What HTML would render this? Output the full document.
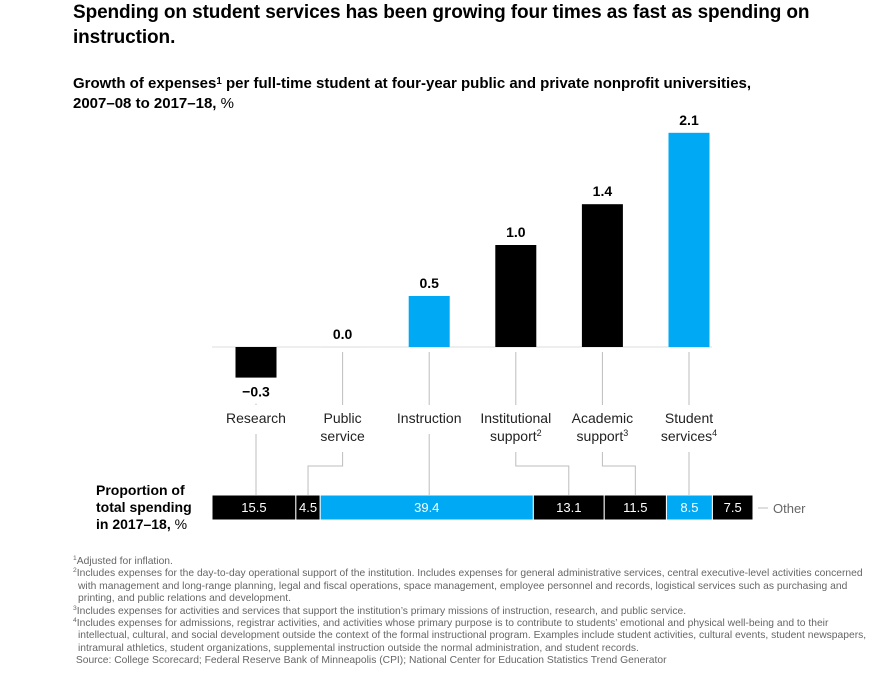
<!DOCTYPE html>
<html><head><meta charset="utf-8"><style>
body{margin:0;background:#fff;font-family:"Liberation Sans",sans-serif;}
#wrap{position:relative;width:889px;height:682px;overflow:hidden;}
.t{position:absolute;left:73px;top:0;font-size:19px;letter-spacing:-0.1px;font-weight:bold;line-height:25px;color:#000;width:795px;}
.st{position:absolute;left:73px;top:74px;font-size:15px;font-weight:bold;line-height:20px;color:#000;width:760px;}
.nw{white-space:nowrap;}
.fn{position:absolute;left:73px;top:556px;font-size:10.3px;line-height:12.4px;color:#666;width:795px;}
.fn div{padding-left:5px;text-indent:-5px;line-height:12.4px;}
sup{font-size:65%;line-height:0;vertical-align:4px;}
</style></head><body>
<div id="wrap">
<div class="t">Spending on student services has been growing four times as fast as spending on instruction.</div>
<div class="st">Growth of expenses<sup>1</sup> per full-time student at four-year public and private nonprofit universities,<br><span class="nw">2007–08</span> to <span class="nw">2017–18,</span> <span style="font-weight:normal">%</span></div>
<svg id="svg" width="889" height="682" style="position:absolute;left:0;top:0"></svg>
<div class="fn">
<div><sup>1</sup>Adjusted for inflation.</div>
<div><sup>2</sup>Includes expenses for the day-to-day operational support of the institution. Includes expenses for general administrative services, central executive-level activities concerned with management and long-range planning, legal and fiscal operations, space management, employee personnel and records, logistical services such as purchasing and printing, and public relations and development.</div>
<div><sup>3</sup>Includes expenses for activities and services that support the institution’s primary missions of instruction, research, and public service.</div>
<div><sup>4</sup>Includes expenses for admissions, registrar activities, and activities whose primary purpose is to contribute to students’ emotional and physical well-being and to their intellectual, cultural, and social development outside the context of the formal instructional program. Examples include student activities, cultural events, student newspapers, intramural athletics, student organizations, supplemental instruction outside the normal administration, and student records.</div>
<div>&nbsp;Source: College Scorecard; Federal Reserve Bank of Minneapolis (CPI); National Center for Education Statistics Trend Generator</div>
</div>
</div>
<script>
const categories=["Research","Public service","Instruction","Institutional support","Academic support","Student services"];
const growth=[-0.3,0.0,0.5,1.0,1.4,2.1];
const growthLabels=["−0.3","0.0","0.5","1.0","1.4","2.1"];
const highlight=[false,false,true,false,false,true];
const shareNames=["Research","Public service","Instruction","Institutional support","Academic support","Student services","Other"];
const shares=[15.5,4.5,39.4,13.1,11.5,8.5,7.5];
const shareLabels=["15.5","4.5","39.4","13.1","11.5","8.5","7.5"];
const shareHighlight=[false,false,true,false,false,true,false];

const NS="http://www.w3.org/2000/svg";
const svg=document.getElementById('svg');
function mk(tag,attrs,parent){const e=document.createElementNS(NS,tag);for(const k in attrs)e.setAttribute(k,attrs[k]);(parent||svg).appendChild(e);return e;}
const BLUE="#00a9f4",GRAY="#bdbdbd";
const y0=347,k=102;
const yS=v=>y0-v*k;
const xC=i=>256+i*86.6;
const bw=41;
const labelLines=[["Research"],["Public","service"],["Instruction"],["Institutional","support","2"],["Academic","support","3"],["Student","services","4"]];
const base=mk('line',{x1:212,x2:712,y1:y0,y2:y0,stroke:"#ddd","stroke-width":1});

growth.forEach((v,i)=>{
  const x=xC(i),top=Math.min(yS(v),y0),h=Math.abs(yS(v)-y0);
  const startY=v<0?yS(v)+26:y0+5;
  const c=mk('line',{x1:x,x2:x,y1:startY,y2:405,stroke:GRAY,"stroke-width":1});
  
  const r=mk('rect',{x:x-bw/2,y:top,width:bw,height:Math.max(h,0.01),fill:highlight[i]?BLUE:"#000"});
  
  
  const ly=v<0?yS(v)+19:yS(v)-8;
  const t=mk('text',{x:x,y:ly,"text-anchor":"middle","font-size":14,"font-weight":"bold",fill:"#000"});
  t.textContent=growthLabels[i];
  
  const L=labelLines[i];
  const g=mk('text',{x:x,y:423,"text-anchor":"middle","font-size":14,fill:"#222"});
  
  const s1=mk('tspan',{x:x,dy:0},g);s1.textContent=L[0];
  if(L[1]){const s2=mk('tspan',{x:x,dy:18},g);s2.textContent=L[1];}
  if(L[2]){const s3=mk('tspan',{dy:-5,"font-size":9},g);s3.textContent=L[2];}
});
const sx0=212,sx1=753,sy=495,sh=25;
const tot=shares.reduce((a,b)=>a+b,0);
const sX=v=>sx0+v/tot*(sx1-sx0);
let acc=0;const segC=[];
shares.forEach((v,i)=>{
  const a=sX(acc),b=sX(acc+v);acc+=v;segC.push((a+b)/2);
  const r=mk('rect',{x:a,y:sy,width:b-a,height:sh,fill:shareHighlight[i]?BLUE:"#000",stroke:"#fff","stroke-width":1});
  
  
  const t=mk('text',{x:(a+b)/2,y:sy+17,"text-anchor":"middle","font-size":13,fill:"#fff"});
  t.textContent=shareLabels[i];
  
});
function L2(i){return labelLines[i].length>1;}
categories.forEach((c,i)=>{
  const x=xC(i),tx=segC[i];
  const top=L2(i)?452:434;
  let d;
  if(Math.abs(tx-x)<6) d=`M${x},${top} V${sy}`;
  else d=`M${x},${top} V466 H${tx} V${sy}`;
  const p=mk('path',{d:d,fill:"none",stroke:GRAY,"stroke-width":1});
  
});
const ol=mk('line',{x1:758,x2:768,y1:sy+13,y2:sy+13,stroke:GRAY});

const ot=mk('text',{x:773,y:sy+18,"font-size":13,fill:"#666"});ot.textContent="Other";

const pl=mk('text',{x:96,y:495,"font-size":14,"font-weight":"bold",fill:"#000"});

[["Proportion of",0],["total spending",17],["in 2017–18, ",17]].forEach((a,j)=>{const s=mk('tspan',{x:96,dy:a[1]},pl);s.textContent=a[0];});
const pct=mk('tspan',{"font-weight":"normal"},pl);pct.textContent="%";
</script>
</body></html>
